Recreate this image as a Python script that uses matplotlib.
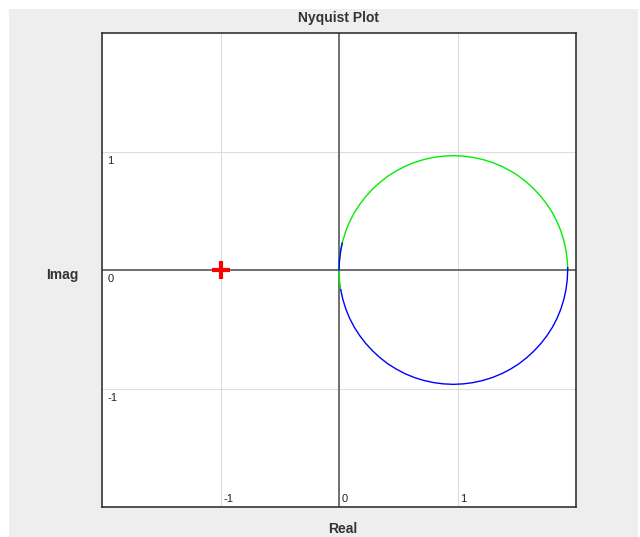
import matplotlib
matplotlib.use("Agg")
import matplotlib.pyplot as plt
from matplotlib.patches import Rectangle

# Nyquist curve (real, imag)
green_re = [1.930, 1.926, 1.915, 1.897, 1.872, 1.840, 1.801, 1.755, 1.704, 1.647, 1.585,
            1.519, 1.448, 1.373, 1.295, 1.215, 1.133, 1.049, 0.965, 0.881, 0.797, 0.715,
            0.635, 0.557, 0.483, 0.411, 0.345, 0.283, 0.226, 0.175, 0.129, 0.090, 0.058,
            0.033, 0.015, 0.004, 0.000, 0.004, 0.015]
green_im = [0.000, 0.084, 0.168, 0.250, 0.330, 0.408, 0.483, 0.554, 0.620, 0.682, 0.739,
            0.791, 0.836, 0.875, 0.907, 0.932, 0.950, 0.961, 0.965, 0.961, 0.950, 0.932,
            0.907, 0.875, 0.836, 0.791, 0.739, 0.682, 0.620, 0.554, 0.483, 0.408, 0.330,
            0.250, 0.168, 0.084, 0.000, -0.084, -0.168]

# lower half, then (after the gap) the short piece drawn over the green near the origin
blue_re = [1.930, 1.930, 1.926, 1.915, 1.897, 1.872, 1.840, 1.801, 1.755, 1.704, 1.647, 1.585,
           1.519, 1.448, 1.373, 1.295, 1.215, 1.133, 1.049, 0.965, 0.881, 0.797, 0.715,
           0.635, 0.557, 0.483, 0.411, 0.345, 0.283, 0.226, 0.175, 0.129, 0.090, 0.058,
           0.033, 0.015, float('nan'), 0.000, 0.004, 0.015, 0.027]
blue_im = [0.020, 0.000, -0.084, -0.168, -0.250, -0.330, -0.408, -0.483, -0.554, -0.620, -0.682, -0.739,
           -0.791, -0.836, -0.875, -0.907, -0.932, -0.950, -0.961, -0.965, -0.961, -0.950, -0.932,
           -0.907, -0.875, -0.836, -0.791, -0.739, -0.682, -0.620, -0.554, -0.483, -0.408, -0.330,
           -0.250, -0.168, float('nan'), 0.000, 0.084, 0.168, 0.227]

critical_point = (-1, 0)
ticks = [-1, 0, 1]
tick_labels = ["-1", "0", "1"]

plt.rcParams['font.family'] = ['Liberation Sans', 'DejaVu Sans']

fig = plt.figure(figsize=(6.4, 5.37), dpi=100, facecolor='white')
# grey panel behind everything
fig.patches.append(Rectangle((9 / 640, 0), 629 / 640, 528 / 537, transform=fig.transFigure,
                             facecolor='#eeeeee', edgecolor='none', zorder=-10))

ax = fig.add_axes([102 / 640, 30 / 537, 474 / 640, 474 / 537])
ax.set_facecolor('white')
ax.set_xlim(-2, 2)
ax.set_ylim(-2, 2)

for t in ticks:
    ax.axvline(t, color='#dddddd', lw=0.8, zorder=1)
    ax.axhline(t, color='#dddddd', lw=0.8, zorder=1)
ax.axvline(0, color='#666666', lw=1.3, zorder=2)
ax.axhline(0, color='#666666', lw=1.3, zorder=2)

ax.plot(green_re, green_im, color='#00ee00', lw=1.0, zorder=3)
ax.plot(blue_re, blue_im, color='#0000ff', lw=1.0, zorder=4)
ax.plot(*critical_point, marker='+', color='red', markersize=13, mew=3, zorder=5)

ax.set_xticks([])
ax.set_yticks([])
for s in ax.spines.values():
    s.set_color('#333333')
    s.set_linewidth(1.2)

# tick labels drawn inside the plot area
for t, lab in zip(ticks, tick_labels):
    ax.annotate(lab, xy=(t, -2), xytext=(2, 2), textcoords='offset points',
                ha='left', va='bottom', fontsize=8, color='#222222')
    ax.annotate(lab, xy=(-2, t), xytext=(4, -3), textcoords='offset points',
                ha='left', va='top', fontsize=8, color='#222222')

ax.set_title('Nyquist Plot', fontsize=10, fontweight='bold', color='#333333', pad=8)
fig.text(62 / 640, 1 - 275 / 537, 'Imag', ha='center', va='center',
         fontsize=10, fontweight='bold', color='#333333')
fig.text(343 / 640, 1 - 529 / 537, 'Real', ha='center', va='center',
         fontsize=10, fontweight='bold', color='#333333')

fig.savefig('out.png', dpi=100, facecolor=fig.get_facecolor())
